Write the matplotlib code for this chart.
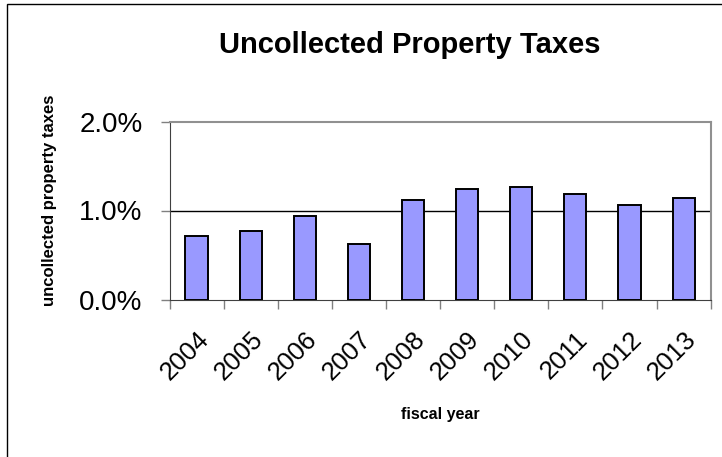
import matplotlib
matplotlib.use("Agg")
import matplotlib.pyplot as plt
from matplotlib.patches import Rectangle
from matplotlib.ticker import FuncFormatter, FixedLocator

years = ["2004", "2005", "2006", "2007", "2008", "2009", "2010", "2011", "2012", "2013"]
values = [0.71, 0.77, 0.94, 0.62, 1.12, 1.245, 1.265, 1.19, 1.065, 1.135]

plt.rcParams['font.family'] = ['Liberation Sans', 'DejaVu Sans']

W, H = 722, 457
fig = plt.figure(figsize=(W/100, H/100), dpi=100)
fig.patch.set_facecolor("white")

# chart border (cropped at right/bottom)
fig.patches.append(Rectangle((7/W, -0.1), 1.2, (H-4)/H + 0.1, transform=fig.transFigure,
                             fill=False, edgecolor="black", linewidth=1.0))

left, right, top, bottom = 169.5, 710.7, 121.5, 299.5
ax = fig.add_axes([left/W, 1-bottom/H, (right-left)/W, (bottom-top)/H])

x = range(len(years))
ax.bar(x, values, width=0.41, color="#9999FF", edgecolor="black", linewidth=1.4, zorder=3)
ax.set_xlim(-0.5, len(years)-0.5)
ax.set_ylim(0, 2.0)
ax.set_yticks([0, 1.0, 2.0])
ax.yaxis.set_major_formatter(FuncFormatter(lambda v, p: f"{v:.1f}%"))
ax.axhline(1.0, color="black", linewidth=1.0, zorder=2)

ax.set_xticks(list(x))
ax.set_xticklabels(years, rotation=45, ha="right", va="top", rotation_mode="anchor", fontsize=18.5)
ax.tick_params(axis="x", which="major", length=0, pad=20)
ax.xaxis.set_minor_locator(FixedLocator([i-0.5 for i in range(len(years)+1)]))
ax.tick_params(axis="x", which="minor", length=6.5, width=1, color="#808080")
ax.tick_params(axis="y", labelsize=20, length=6.5, width=1, color="#808080", pad=13)

for s in ["top", "right"]:
    ax.spines[s].set_color("#909090")
    ax.spines[s].set_linewidth(1.5)
ax.spines["left"].set_color("#404040")
ax.spines["bottom"].set_color("#404040")

fig.text(410/W, 1-53/H, "Uncollected Property Taxes", fontsize=21, fontweight="bold",
         ha="center", va="baseline")
fig.text(440/W, 1-415/H, "fiscal year", fontsize=11.5, fontweight="bold",
         ha="center", va="center")
fig.text(50/W, 1-200/H, "uncollected property taxes", fontsize=12, fontweight="bold",
         ha="center", va="center", rotation=90)

fig.savefig("out.png", dpi=100)
